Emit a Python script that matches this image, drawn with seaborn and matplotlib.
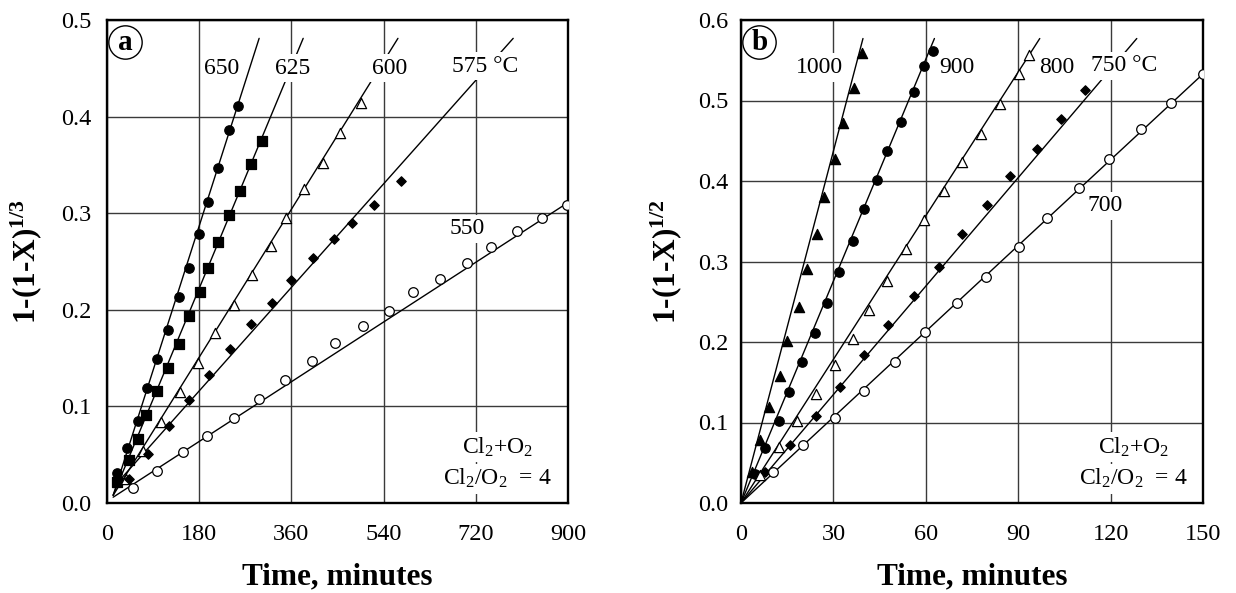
import matplotlib
matplotlib.use("Agg")
import matplotlib.pyplot as plt
import seaborn as sns
import numpy as np
import pandas as pd

# --- Data ---
# (a) shrinking core, 1-(1-X)^(1/3) vs time (min)
T650 = [20, 40, 61, 78, 97, 119, 141, 161, 180, 197, 217, 238, 256]
Y650 = [0.031, 0.057, 0.085, 0.119, 0.149, 0.179, 0.213, 0.243, 0.278, 0.312, 0.347, 0.386, 0.411]
T625 = [20, 42, 61, 76, 98, 120, 141, 161, 181, 198, 217, 239, 260, 281, 302]
Y625 = [0.022, 0.045, 0.066, 0.091, 0.116, 0.140, 0.165, 0.194, 0.218, 0.243, 0.270, 0.298, 0.323, 0.351, 0.375]
T600 = [38, 70, 105, 142, 178, 211, 247, 284, 320, 350, 385, 422, 454, 495]
Y600 = [0.025, 0.054, 0.084, 0.115, 0.145, 0.176, 0.205, 0.236, 0.266, 0.295, 0.325, 0.352, 0.383, 0.414]
T575 = [42, 80, 122, 161, 199, 240, 282, 323, 359, 402, 443, 479, 521, 573]
Y575 = [0.025, 0.051, 0.080, 0.107, 0.132, 0.159, 0.185, 0.207, 0.231, 0.254, 0.273, 0.290, 0.309, 0.333]
T550 = [50, 98, 149, 196, 248, 297, 348, 400, 446, 499, 551, 598, 650, 702, 749, 801, 849, 899]
Y550 = [0.016, 0.033, 0.0525, 0.069, 0.088, 0.108, 0.127, 0.147, 0.166, 0.183, 0.199, 0.218, 0.232, 0.248,
        0.265, 0.282, 0.295, 0.309]

# fitted lines (a): start and end points per temperature (650, 625, 600, 575, 550)
FIT_A_START_T = [12, 12, 12, 12, 12]
FIT_A_START_Y = [0.008, 0.008, 0.008, 0.016, 0.006]
FIT_A_END_T = [297, 383, 568, 793, 900]
FIT_A_END_Y = [0.481, 0.481, 0.481, 0.481, 0.311]

# (b) 1-(1-X)^(1/2) vs time (min)
T1000 = [3.6, 6.3, 9.0, 12.5, 14.9, 18.7, 21.4, 24.7, 27.1, 30.6, 33.1, 36.6, 39.3]
Y1000 = [0.038, 0.078, 0.119, 0.158, 0.201, 0.244, 0.291, 0.334, 0.380, 0.427, 0.472, 0.516, 0.559]
T900 = [4.6, 7.9, 12.2, 15.7, 19.8, 24.1, 27.9, 31.7, 36.4, 39.8, 44.2, 47.4, 52.0, 56.3, 59.5, 62.3]
Y900 = [0.0365, 0.068, 0.102, 0.138, 0.175, 0.211, 0.248, 0.287, 0.325, 0.365, 0.401, 0.437, 0.473, 0.510,
        0.543, 0.561]
T800 = [6.3, 12.2, 18.2, 24.3, 30.4, 36.4, 41.4, 47.4, 53.7, 59.5, 65.8, 71.8, 77.9, 84.0, 90.1, 93.6]
Y800 = [0.035, 0.070, 0.1015, 0.135, 0.171, 0.204, 0.240, 0.276, 0.315, 0.351, 0.3875, 0.423, 0.459, 0.496,
        0.533, 0.5565]
T750 = [7.7, 15.8, 24.4, 32.0, 40.0, 47.7, 56.3, 64.2, 71.9, 79.9, 87.4, 96.1, 104.0, 111.8]
Y750 = [0.0385, 0.0726, 0.108, 0.144, 0.1836, 0.221, 0.257, 0.2934, 0.3336, 0.370, 0.4065, 0.440, 0.4766, 0.513]
T700 = [10.4, 20.1, 30.4, 39.8, 50.1, 59.8, 70.1, 79.6, 90.1, 99.5, 109.9, 119.6, 130.0, 139.6, 150.0]
Y700 = [0.039, 0.0726, 0.1057, 0.139, 0.175, 0.212, 0.248, 0.281, 0.3175, 0.354, 0.391, 0.427, 0.464, 0.4965, 0.533]

# fitted lines (b): all from the origin (1000, 900, 800, 750, 700)
FIT_B_START_T = [0, 0, 0, 0, 0]
FIT_B_START_Y = [0, 0, 0, 0, 0]
FIT_B_END_T = [39.6, 62.8, 97, 128.5, 150]
FIT_B_END_Y = [0.577, 0.577, 0.577, 0.577, 0.533]

XTICKS_A = [0, 180, 360, 540, 720, 900]
XTICKS_B = [0, 30, 60, 90, 120, 150]
YTICKS_A = [0.0, 0.1, 0.2, 0.3, 0.4, 0.5]
YTICKS_B = [0.0, 0.1, 0.2, 0.3, 0.4, 0.5, 0.6]

GRID = "#3a3a3a"


def setup_style():
    sns.set_theme(style="white")
    plt.rcParams["font.family"] = ["Liberation Serif", "DejaVu Serif"]
    plt.rcParams["mathtext.fontset"] = "custom"
    plt.rcParams["mathtext.rm"] = "Liberation Serif"
    plt.rcParams["mathtext.it"] = "Liberation Serif:italic"
    plt.rcParams["mathtext.bf"] = "Liberation Serif:bold"
    plt.rcParams["text.color"] = "black"
    plt.rcParams["axes.labelcolor"] = "black"


def draw_series(ax, t, y, marker, size, filled):
    df = pd.DataFrame({"t": t, "y": y})
    sns.scatterplot(data=df, x="t", y="y", marker=marker, s=size,
                    color="black" if filled else "white", edgecolor="black",
                    linewidth=0.9, zorder=4, ax=ax)


def draw_fits(ax, t0, y0, t1, y1):
    for a, b, c, d in zip(t0, y0, t1, y1):
        df = pd.DataFrame({"t": [a, c], "y": [b, d]})
        sns.lineplot(data=df, x="t", y="y", color="black", linewidth=1.0,
                     estimator=None, sort=False, zorder=2, ax=ax)


def label(ax, x, y, s, size=17):
    ax.text(x, y, s, ha="center", va="center", fontsize=size, zorder=3,
            bbox=dict(boxstyle="square,pad=0.15", fc="white", ec="none"))


def style_axes(ax, xticks, yticks, ylabel, tag, ypad, ylab_x):
    ax.set_xlim(xticks[0], xticks[-1])
    ax.set_ylim(yticks[0], yticks[-1])
    ax.set_xticks(xticks)
    ax.set_yticks(yticks)
    ax.set_yticklabels([f"{v:.1f}" for v in yticks])
    ax.grid(True, color=GRID, linewidth=1.0)
    ax.set_axisbelow(True)
    ax.tick_params(length=0, labelsize=17.5, colors="black")
    ax.tick_params(axis="x", pad=15)
    ax.tick_params(axis="y", pad=ypad)
    for sp in ax.spines.values():
        sp.set_color("black")
        sp.set_linewidth(1.7)
    ax.set_xlabel("Time, minutes", fontsize=22.5, fontweight="bold", color="black")
    ax.set_ylabel(ylabel, fontsize=22.5, fontweight="bold", color="black")
    ax.xaxis.set_label_coords(0.5, -0.122)
    ax.yaxis.set_label_coords(ylab_x, 0.5)
    # circled panel letter
    ax.plot([0.040], [0.955], marker="o", ms=24, mfc="white", mec="black", mew=1.0,
            transform=ax.transAxes, clip_on=False, zorder=5)
    ax.text(0.040, 0.953, tag, transform=ax.transAxes, ha="center", va="center",
            fontsize=21, fontweight="bold", zorder=6)


def main():
    setup_style()
    fig = plt.figure(figsize=(12.36, 5.93), dpi=100)
    ax_a = fig.add_axes([107 / 1236, 90 / 593, 461 / 1236, 483 / 593])
    ax_b = fig.add_axes([741 / 1236, 90 / 593, 462 / 1236, 483 / 593])

    # panel a
    draw_fits(ax_a, FIT_A_START_T, FIT_A_START_Y, FIT_A_END_T, FIT_A_END_Y)
    draw_series(ax_a, T650, Y650, "o", 46, True)
    draw_series(ax_a, T625, Y625, "s", 42, True)
    draw_series(ax_a, T600, Y600, "^", 54, False)
    draw_series(ax_a, T575, Y575, "D", 23, True)
    draw_series(ax_a, T550, Y550, "o", 48, False)
    style_axes(ax_a, XTICKS_A, YTICKS_A, r"1-(1-X)$^{\mathbf{1/3}}$", "a", 11, -0.137)
    for s, x, y in [("650", 224, 0.450), ("625", 362, 0.450), ("600", 551, 0.450),
                    ("575 °C", 739, 0.452), ("550", 704, 0.284)]:
        label(ax_a, x, y, s)
    label(ax_a, 763, 0.058, r"Cl$_2$+O$_2$")
    label(ax_a, 762, 0.025, r"Cl$_2$/O$_2$  = 4")

    # panel b
    draw_fits(ax_b, FIT_B_START_T, FIT_B_START_Y, FIT_B_END_T, FIT_B_END_Y)
    draw_series(ax_b, T1000, Y1000, "^", 54, True)
    draw_series(ax_b, T900, Y900, "o", 46, True)
    draw_series(ax_b, T800, Y800, "^", 54, False)
    draw_series(ax_b, T750, Y750, "D", 23, True)
    draw_series(ax_b, T700, Y700, "o", 48, False)
    style_axes(ax_b, XTICKS_B, YTICKS_B, r"1-(1-X)$^{\mathbf{1/2}}$", "b", 9, -0.123)
    for s, x, y in [("1000", 25.5, 0.541), ("900", 70.1, 0.541), ("800", 102.4, 0.541),
                    ("750 °C", 124.5, 0.543), ("700", 118.3, 0.369)]:
        label(ax_b, x, y, s)
    label(ax_b, 127.5, 0.0696, r"Cl$_2$+O$_2$")
    label(ax_b, 127.5, 0.030, r"Cl$_2$/O$_2$  = 4")

    fig.savefig("out.png", dpi=100)
    plt.close(fig)


if __name__ == "__main__":
    main()
